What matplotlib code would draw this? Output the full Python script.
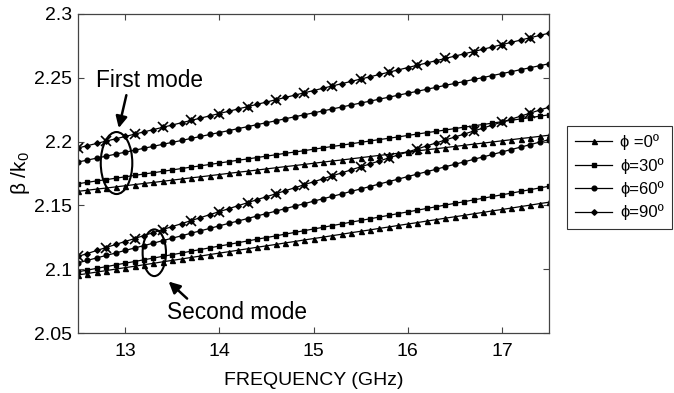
import matplotlib
matplotlib.use("Agg")
import matplotlib.pyplot as plt
from matplotlib.patches import Ellipse

plt.rcParams["font.family"] = ["Liberation Sans", "DejaVu Sans"]
plt.rcParams["mathtext.default"] = "regular"

freq = [12.5, 12.6, 12.7, 12.8, 12.9, 13.0, 13.1, 13.2, 13.3, 13.4,
        13.5, 13.6, 13.7, 13.8, 13.9, 14.0, 14.1, 14.2, 14.3, 14.4,
        14.5, 14.6, 14.7, 14.8, 14.9, 15.0, 15.1, 15.2, 15.3, 15.4,
        15.5, 15.6, 15.7, 15.8, 15.9, 16.0, 16.1, 16.2, 16.3, 16.4,
        16.5, 16.6, 16.7, 16.8, 16.9, 17.0, 17.1, 17.2, 17.3, 17.4, 17.5]

# first mode
first_phi90 = [2.1950, 2.1968, 2.1986, 2.2004, 2.2022, 2.2040, 2.2058, 2.2076, 2.2094, 2.2112,
               2.2130, 2.2148, 2.2166, 2.2184, 2.2202, 2.2220, 2.2238, 2.2256, 2.2274, 2.2292,
               2.2310, 2.2328, 2.2346, 2.2364, 2.2382, 2.2400, 2.2418, 2.2436, 2.2454, 2.2472,
               2.2490, 2.2508, 2.2526, 2.2544, 2.2562, 2.2580, 2.2598, 2.2616, 2.2634, 2.2652,
               2.2670, 2.2688, 2.2706, 2.2724, 2.2742, 2.2760, 2.2778, 2.2796, 2.2814, 2.2832, 2.2850]
first_phi60 = [2.1840, 2.1855, 2.1871, 2.1886, 2.1902, 2.1917, 2.1932, 2.1948, 2.1963, 2.1979,
               2.1994, 2.2009, 2.2025, 2.2040, 2.2056, 2.2071, 2.2086, 2.2102, 2.2117, 2.2133,
               2.2148, 2.2163, 2.2179, 2.2194, 2.2210, 2.2225, 2.2240, 2.2256, 2.2271, 2.2287,
               2.2302, 2.2317, 2.2333, 2.2348, 2.2364, 2.2379, 2.2394, 2.2410, 2.2425, 2.2441,
               2.2456, 2.2471, 2.2487, 2.2502, 2.2518, 2.2533, 2.2548, 2.2564, 2.2579, 2.2595, 2.2610]
first_phi30 = [2.1670, 2.1681, 2.1692, 2.1702, 2.1713, 2.1724, 2.1735, 2.1746, 2.1756, 2.1767,
               2.1778, 2.1789, 2.1800, 2.1810, 2.1821, 2.1832, 2.1843, 2.1854, 2.1864, 2.1875,
               2.1886, 2.1897, 2.1908, 2.1918, 2.1929, 2.1940, 2.1951, 2.1962, 2.1972, 2.1983,
               2.1994, 2.2005, 2.2016, 2.2026, 2.2037, 2.2048, 2.2059, 2.2070, 2.2080, 2.2091,
               2.2102, 2.2113, 2.2124, 2.2134, 2.2145, 2.2156, 2.2167, 2.2178, 2.2188, 2.2199, 2.2210]
first_phi0 = [2.1610, 2.1619, 2.1628, 2.1636, 2.1645, 2.1654, 2.1663, 2.1672, 2.1680, 2.1689,
              2.1698, 2.1707, 2.1716, 2.1724, 2.1733, 2.1742, 2.1751, 2.1760, 2.1768, 2.1777,
              2.1786, 2.1795, 2.1804, 2.1812, 2.1821, 2.1830, 2.1839, 2.1848, 2.1856, 2.1865,
              2.1874, 2.1883, 2.1892, 2.1900, 2.1909, 2.1918, 2.1927, 2.1936, 2.1944, 2.1953,
              2.1962, 2.1971, 2.1980, 2.1988, 2.1997, 2.2006, 2.2015, 2.2024, 2.2032, 2.2041, 2.2050]

# second mode
second_phi90 = [2.1100, 2.1123, 2.1147, 2.1170, 2.1194, 2.1217, 2.1240, 2.1264, 2.1287, 2.1311,
                2.1334, 2.1357, 2.1381, 2.1404, 2.1428, 2.1451, 2.1474, 2.1498, 2.1521, 2.1545,
                2.1568, 2.1591, 2.1615, 2.1638, 2.1662, 2.1685, 2.1708, 2.1732, 2.1755, 2.1779,
                2.1802, 2.1825, 2.1849, 2.1872, 2.1896, 2.1919, 2.1942, 2.1966, 2.1989, 2.2013,
                2.2036, 2.2059, 2.2083, 2.2106, 2.2130, 2.2153, 2.2176, 2.2200, 2.2223, 2.2247, 2.2270]
second_phi60 = [2.1050, 2.1069, 2.1089, 2.1108, 2.1127, 2.1147, 2.1166, 2.1185, 2.1204, 2.1224,
                2.1243, 2.1262, 2.1282, 2.1301, 2.1320, 2.1340, 2.1359, 2.1378, 2.1397, 2.1417,
                2.1436, 2.1455, 2.1475, 2.1494, 2.1513, 2.1533, 2.1552, 2.1571, 2.1590, 2.1610,
                2.1629, 2.1648, 2.1668, 2.1687, 2.1706, 2.1726, 2.1745, 2.1764, 2.1783, 2.1803,
                2.1822, 2.1841, 2.1861, 2.1880, 2.1899, 2.1919, 2.1938, 2.1957, 2.1976, 2.1996, 2.2015]
second_phi30 = [2.0980, 2.0993, 2.1007, 2.1020, 2.1034, 2.1047, 2.1060, 2.1074, 2.1087, 2.1101,
                2.1114, 2.1127, 2.1141, 2.1154, 2.1168, 2.1181, 2.1194, 2.1208, 2.1221, 2.1235,
                2.1248, 2.1261, 2.1275, 2.1288, 2.1302, 2.1315, 2.1328, 2.1342, 2.1355, 2.1369,
                2.1382, 2.1395, 2.1409, 2.1422, 2.1436, 2.1449, 2.1462, 2.1476, 2.1489, 2.1503,
                2.1516, 2.1529, 2.1543, 2.1556, 2.1570, 2.1583, 2.1596, 2.1610, 2.1623, 2.1637, 2.1650]
second_phi0 = [2.0955, 2.0966, 2.0978, 2.0989, 2.1001, 2.1012, 2.1023, 2.1035, 2.1046, 2.1058,
               2.1069, 2.1080, 2.1092, 2.1103, 2.1115, 2.1126, 2.1137, 2.1149, 2.1160, 2.1172,
               2.1183, 2.1194, 2.1206, 2.1217, 2.1229, 2.1240, 2.1251, 2.1263, 2.1274, 2.1286,
               2.1297, 2.1308, 2.1320, 2.1331, 2.1343, 2.1354, 2.1365, 2.1377, 2.1388, 2.1400,
               2.1411, 2.1422, 2.1434, 2.1445, 2.1457, 2.1468, 2.1479, 2.1491, 2.1502, 2.1514, 2.1525]

labels = ["ϕ =0º", "ϕ=30º", "ϕ=60º", "ϕ=90º"]
x_ticks = [13, 14, 15, 16, 17]
y_ticks = [2.05, 2.1, 2.15, 2.2, 2.25, 2.3]

fig = plt.figure(figsize=(6.74, 3.93), dpi=100)
ax = fig.add_axes([78 / 674, 1 - 333 / 393, 471 / 674, 319 / 393])

styles = [("^", 3.6), ("s", 3.0), ("o", 3.4), ("D", 2.8)]
first = [first_phi0, first_phi30, first_phi60, first_phi90]
second = [second_phi0, second_phi30, second_phi60, second_phi90]
for i, (mk, ms) in enumerate(styles):
    ax.plot(freq, first[i], color="black", lw=0.9, marker=mk, ms=ms, label=labels[i])
    ax.plot(freq, second[i], color="black", lw=0.9, marker=mk, ms=ms)

for ys in (first_phi90, second_phi90):
    ax.plot(freq, ys, ls="none", marker="x", ms=6.5, mew=1.2, color="black", markevery=3)

ax.add_patch(Ellipse((12.909, 2.1832), 0.335, 0.0486, fill=False, lw=1.5, color="black"))
ax.add_patch(Ellipse((13.31, 2.1129), 0.248, 0.0366, fill=False, lw=1.5, color="black"))

ax.text(13.259, 2.2475, "First mode", fontsize=16.3, ha="center", va="center")
ax.annotate("", xy=(12.926, 2.2085), xytext=(13.02, 2.2385),
            arrowprops=dict(arrowstyle="-|>", color="black", lw=1.8, mutation_scale=17))
ax.text(14.188, 2.0657, "Second mode", fontsize=16.3, ha="center", va="center")
ax.annotate("", xy=(13.44, 2.0918), xytext=(13.68, 2.0755),
            arrowprops=dict(arrowstyle="-|>", color="black", lw=1.8, mutation_scale=17))

ax.set_xlim(12.5, 17.5)
ax.set_ylim(2.05, 2.3)
ax.set_xticks(x_ticks)
ax.set_yticks(y_ticks)
ax.set_yticklabels([f"{v:g}" for v in y_ticks])
ax.tick_params(direction="in", top=True, right=True, length=4, labelsize=14, color="#444444")
ax.tick_params(axis="x", pad=7)
ax.tick_params(axis="y", pad=4)
for sp in ax.spines.values():
    sp.set_color("#444444")
    sp.set_linewidth(0.9)

ax.set_xlabel("FREQUENCY (GHz)", fontsize=14, labelpad=9)
ax.set_ylabel("β /k$_0$", fontsize=15, labelpad=2)

leg = fig.legend(loc="upper left", bbox_to_anchor=(567 / 674, 1 - 126 / 393), fontsize=12,
                 frameon=True, fancybox=False, edgecolor="black", handlelength=2.2,
                 labelspacing=0.45, borderpad=0.5, handletextpad=0.5, borderaxespad=0)
leg.get_frame().set_linewidth(0.8)

fig.savefig("out.png", dpi=100)
